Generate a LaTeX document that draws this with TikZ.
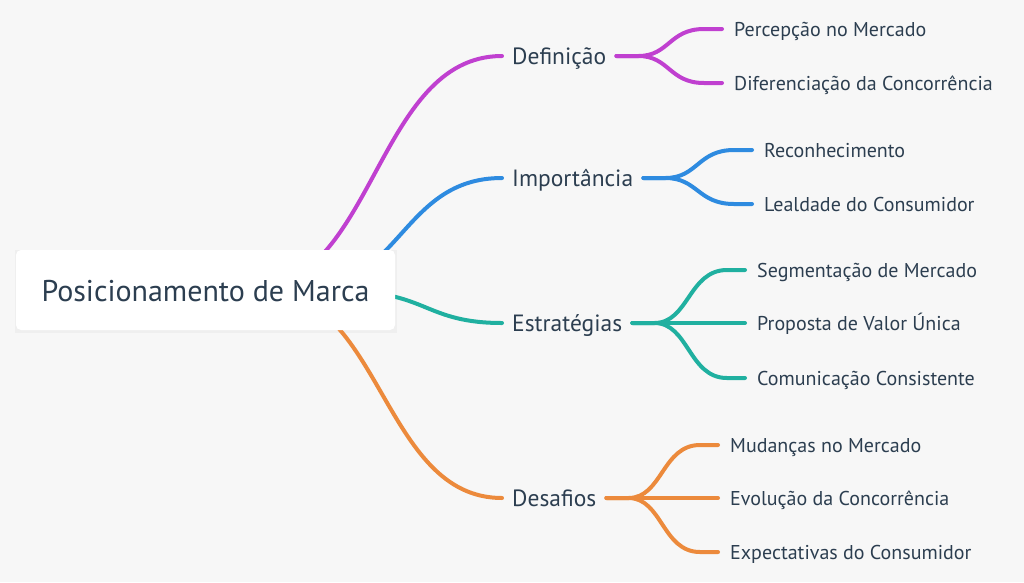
\documentclass[tikz,border=0pt]{standalone}
\usepackage{fontspec}
\setmainfont{PT Sans}
\usetikzlibrary{calc,backgrounds}
\definecolor{bg}{HTML}{F7F7F7}
\definecolor{txt}{HTML}{2C3E50}
\definecolor{cpurple}{HTML}{C040D0}
\definecolor{cblue}{HTML}{2E8BE0}
\definecolor{cteal}{HTML}{20B0A0}
\definecolor{corange}{HTML}{EC8A3C}
\begin{document}
\begin{tikzpicture}[x=1pt,y=-1pt,
 lvlone/.style={anchor=west,inner xsep=10pt,inner ysep=0pt,text height=16pt,text depth=0pt,font=\fontsize{23.5}{26}\selectfont,text=txt},
 lvltwo/.style={anchor=west,inner xsep=12pt,inner ysep=0pt,text height=14pt,text depth=0pt,font=\fontsize{20}{23}\selectfont,text=txt},
 edge/.style={line width=4pt,line cap=round,line join=round},
 mainlink/.style={to path={let \p1=(\tikztostart),\p2=(\tikztotarget) in .. controls ({0.5*\x1+0.5*\x2},\y1) and ({0.5*\x1+0.5*\x2},\y2) .. (\tikztotarget)}},
 sublink/.style={to path={let \p1=(\tikztostart),\p2=(\tikztotarget) in -- ({\x1+22},\y1) .. controls ({0.5*\x1+0.5*\x2},\y1) and ({0.5*\x1+0.5*\x2},\y2) .. ({\x2-18},\y2) -- (\tikztotarget)}}]
\useasboundingbox (0,0) rectangle (1024,582);
\begin{pgfonlayer}{background}
\fill[bg] (0,0) rectangle (1024,582);
\fill[black,opacity=0.03] (15,250) rectangle (397,333);
\end{pgfonlayer}
% root
\node[fill=white,rounded corners=5pt,minimum width=379pt,minimum height=80pt,inner sep=0pt,text height=22pt,text depth=0pt,font=\fontsize{30}{34}\selectfont,text=txt] (root) at (205.5,290) {Posicionamento de Marca};
\coordinate (hubA) at (248,290);
\coordinate (hubB) at (300,290);
\coordinate (hubC) at (350,292);
\coordinate (hubD) at (262,290);
% level 1
\node[lvlone] (def) at (502,56) {Definição};
\node[lvlone] (imp) at (502,178) {Importância};
\node[lvlone] (est) at (502,323) {Estratégias};
\node[lvlone] (des) at (502,498) {Desafios};
% level 2
\node[lvltwo] (def1) at (722,29) {Percepção no Mercado};
\node[lvltwo] (def2) at (722,83) {Diferenciação da Concorrência};
\node[lvltwo] (imp1) at (752,150) {Reconhecimento};
\node[lvltwo] (imp2) at (752,204) {Lealdade do Consumidor};
\node[lvltwo] (est1) at (745,270) {Segmentação de Mercado};
\node[lvltwo] (est2) at (745,323) {Proposta de Valor Única};
\node[lvltwo] (est3) at (745,378) {Comunicação Consistente};
\node[lvltwo] (des1) at (718,445) {Mudanças no Mercado};
\node[lvltwo] (des2) at (718,498) {Evolução da Concorrência};
\node[lvltwo] (des3) at (718,552) {Expectativas do Consumidor};
% connectors
\begin{pgfonlayer}{background}
\draw[edge,cpurple] (hubA) to[mainlink] (def.west);
\draw[edge,cblue] (hubB) to[mainlink] (imp.west);
\draw[edge,cteal] (hubC) to[mainlink] (est.west);
\draw[edge,corange] (hubD) to[mainlink] (des.west);
\end{pgfonlayer}
\draw[edge,cpurple] (def.east) to[sublink] (def1.west);
\draw[edge,cpurple] (def.east) to[sublink] (def2.west);
\draw[edge,cblue] (imp.east) to[sublink] (imp1.west);
\draw[edge,cblue] (imp.east) to[sublink] (imp2.west);
\draw[edge,cteal] (est.east) to[sublink] (est1.west);
\draw[edge,cteal] (est.east) to[sublink] (est2.west);
\draw[edge,cteal] (est.east) to[sublink] (est3.west);
\draw[edge,corange] (des.east) to[sublink] (des1.west);
\draw[edge,corange] (des.east) to[sublink] (des2.west);
\draw[edge,corange] (des.east) to[sublink] (des3.west);
\end{tikzpicture}
\end{document}
